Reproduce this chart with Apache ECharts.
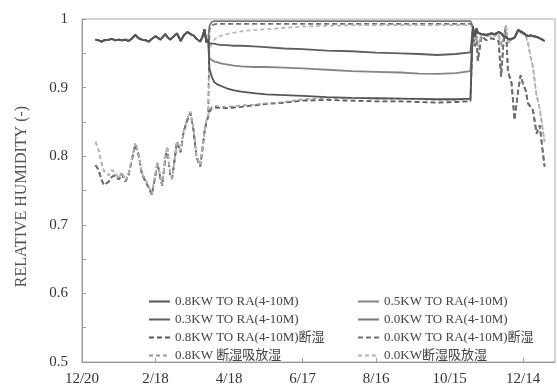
<!DOCTYPE html>
<html>
<head>
<meta charset="utf-8">
<script src="https://cdn.jsdelivr.net/npm/echarts@6/dist/echarts.min.js"></script>
<style>
  html, body { margin: 0; padding: 0; background: #fff; }
  #chart { width: 557px; height: 387px; }
</style>
</head>
<body>
<div id="chart"></div>
<script>
// Day offsets from 12/20; x-axis ticks every 60 days
const dateLabels = ['12/20', '2/18', '4/18', '6/17', '8/16', '10/15', '12/14'];

// Free-running period (before the April start)
const preDays = [11, 13.5, 16, 18, 22, 24.5, 27, 30, 32.5, 35.5, 38, 41, 43.5, 46, 49, 52, 54.5, 57, 60, 61.5,
  64, 65.5, 68, 69.5, 72, 73.5, 77.5, 80.5, 83, 86, 88.5, 91, 93.5, 96.5, 98.5, 100, 101.5, 103];
const preSolid = [0.970, 0.969, 0.967, 0.969, 0.970, 0.971, 0.969, 0.970, 0.969, 0.970, 0.968, 0.972, 0.977, 0.972, 0.970, 0.969, 0.967, 0.971, 0.975, 0.973,
  0.970, 0.973, 0.978, 0.974, 0.970, 0.972, 0.979, 0.968, 0.976, 0.981, 0.978, 0.976, 0.971, 0.967, 0.975, 0.985, 0.966, 0.970];
const preDashLight = [0.821, 0.809, 0.790, 0.778, 0.772, 0.780, 0.775, 0.768, 0.777, 0.765, 0.775, 0.799, 0.819, 0.805, 0.775, 0.765, 0.756, 0.745, 0.775, 0.792,
  0.770, 0.758, 0.799, 0.814, 0.775, 0.768, 0.823, 0.808, 0.838, 0.855, 0.865, 0.840, 0.800, 0.787, 0.815, 0.838, 0.852, 0.860];
const preDashDark = [0.787, 0.780, 0.765, 0.758, 0.763, 0.770, 0.772, 0.766, 0.774, 0.763, 0.773, 0.797, 0.817, 0.803, 0.773, 0.763, 0.754, 0.744, 0.773, 0.790,
  0.768, 0.757, 0.797, 0.812, 0.773, 0.767, 0.821, 0.806, 0.836, 0.853, 0.863, 0.838, 0.798, 0.785, 0.813, 0.836, 0.850, 0.858];

// Operating period (April - October)
const midDays = [104, 106, 108, 110, 114, 118, 124, 130, 140, 150, 165, 180, 200, 220, 240, 260, 275, 290, 305, 317];
const mid08 = [0.928, 0.915, 0.908, 0.905, 0.902, 0.899, 0.896, 0.894, 0.892, 0.890, 0.889, 0.888, 0.886, 0.885, 0.8845, 0.884, 0.8835, 0.883, 0.883, 0.884];
const mid05 = [0.943, 0.940, 0.938, 0.937, 0.935, 0.934, 0.932, 0.931, 0.930, 0.930, 0.929, 0.928, 0.926, 0.924, 0.923, 0.922, 0.9205, 0.920, 0.921, 0.924];
const mid03 = [0.965, 0.964, 0.964, 0.963, 0.962, 0.962, 0.961, 0.961, 0.960, 0.959, 0.957, 0.956, 0.954, 0.953, 0.951, 0.950, 0.949, 0.9475, 0.949, 0.9515];
const mid00 = [0.990, 0.996, 0.997, 0.997, 0.997, 0.997, 0.997, 0.997, 0.997, 0.997, 0.997, 0.997, 0.997, 0.997, 0.997, 0.997, 0.997, 0.997, 0.997, 0.997];
const mid08Cut = [0.865, 0.870, 0.871, 0.871, 0.870, 0.870, 0.871, 0.872, 0.874, 0.876, 0.878, 0.881, 0.882, 0.881, 0.880, 0.880, 0.879, 0.878, 0.879, 0.880];
const mid00Cut = [0.985, 0.991, 0.992, 0.993, 0.993, 0.993, 0.993, 0.993, 0.993, 0.993, 0.993, 0.993, 0.993, 0.993, 0.993, 0.993, 0.993, 0.993, 0.993, 0.993];
const mid08Buf = [0.867, 0.872, 0.873, 0.873, 0.872, 0.8717, 0.873, 0.874, 0.875, 0.877, 0.879, 0.883, 0.885, 0.885, 0.884, 0.884, 0.883, 0.882, 0.882, 0.883];
const mid00Buf = [0.955, 0.965, 0.970, 0.973, 0.976, 0.978, 0.980, 0.982, 0.984, 0.985, 0.987, 0.989, 0.990, 0.991, 0.991, 0.991, 0.991, 0.991, 0.991, 0.991];

// Free-running period after October
const postDays = [319, 320.5, 322, 323, 326, 330, 334, 337, 340, 342, 344, 346, 347.5, 349, 350.5, 353, 356, 358, 360, 362, 364, 366, 368, 371, 373.5, 375.5, 377.5];
const postSolid = [0.989, 0.974, 0.986, 0.980, 0.978, 0.977, 0.979, 0.978, 0.981, 0.979, 0.975, 0.973, 0.972, 0.970, 0.972, 0.973, 0.984, 0.982, 0.980, 0.977, 0.975, 0.976, 0.975, 0.974, 0.972, 0.970, 0.968];
const postDashDark = [0.985, 0.960, 0.975, 0.939, 0.975, 0.969, 0.972, 0.970, 0.968, 0.916, 0.966, 0.990, 0.926, 0.915, 0.907, 0.853, 0.8965, 0.918, 0.905, 0.8965, 0.877, 0.872, 0.867, 0.833, 0.845, 0.814, 0.785];
const postDashLight = [0.987, 0.970, 0.980, 0.960, 0.978, 0.975, 0.976, 0.975, 0.978, 0.960, 0.975, 0.992, 0.968, 0.965, 0.970, 0.972, 0.982, 0.980, 0.978, 0.976, 0.965, 0.945, 0.930, 0.888, 0.870, 0.845, 0.821];

const seriesNames = [
  '0.8KW TO RA(4-10M)', '0.5KW TO RA(4-10M)',
  '0.3KW TO RA(4-10M)', '0.0KW TO RA(4-10M)',
  '0.8KW TO RA(4-10M)断湿', '0.0KW TO RA(4-10M)断湿',
  '0.8KW 断湿吸放湿', '0.0KW断湿吸放湿'
];

function zip(days, vals) { return days.map((d, i) => [d, vals[i]]); }
function join(pre, mid, post) {
  return zip(preDays, pre).concat(zip(midDays, mid), zip(postDays, post));
}

const serif = "'Liberation Serif', 'Noto Sans CJK SC', serif";

function lineSeries(name, data, color, type, width) {
  return {
    name, type: 'line', data, symbol: 'none', smooth: false,
    lineStyle: { color, width, type },
    itemStyle: { color },
    emphasis: { disabled: true }
  };
}

// Drawing order: dark dashed underneath, light dashed, then the solid lines on top
const series = [
  lineSeries(seriesNames[4], join(preDashDark, mid08Cut, postDashDark), '#5a5a5a', [5, 3], 1.8),
  lineSeries(seriesNames[5], join(preDashDark, mid00Cut, postDashDark), '#707070', [5, 3], 1.8),
  lineSeries(seriesNames[6], join(preDashLight, mid08Buf, postDashLight), '#9a9a9a', [4, 3], 1.6),
  lineSeries(seriesNames[7], join(preDashLight, mid00Buf, postDashLight), '#b4b4b4', [4, 3], 1.6),
  lineSeries(seriesNames[1], join(preSolid, mid05, postSolid), '#858585', 'solid', 1.8),
  lineSeries(seriesNames[3], join(preSolid, mid00, postSolid), '#7a7a7a', 'solid', 1.8),
  lineSeries(seriesNames[2], join(preSolid, mid03, postSolid), '#5e5e5e', 'solid', 1.8),
  lineSeries(seriesNames[0], join(preSolid, mid08, postSolid), '#555555', 'solid', 1.8)
];

const legendCommon = {
  orient: 'vertical', top: 290, itemWidth: 21, itemHeight: 12, itemGap: 5,
  itemStyle: { opacity: 0 },
  textStyle: { fontFamily: serif, fontSize: 13, color: '#444' },
  selectedMode: false
};

const chart = echarts.init(document.getElementById('chart'), null, { renderer: 'canvas' });
chart.setOption({
  animation: false,
  backgroundColor: '#fff',
  grid: { left: 82, right: 2, top: 19, bottom: 25, show: true, borderColor: '#aaa', borderWidth: 1 },
  legend: [
    Object.assign({}, legendCommon, { left: 143, data: [seriesNames[0], seriesNames[2], seriesNames[4], seriesNames[6]] }),
    Object.assign({}, legendCommon, { left: 352, data: [seriesNames[1], seriesNames[3], seriesNames[5], seriesNames[7]] })
  ],
  xAxis: {
    type: 'value', min: 0, max: 386, interval: 60,
    axisLine: { show: true, lineStyle: { color: '#999', width: 1 } },
    axisTick: { show: true, inside: true, length: 4, lineStyle: { color: '#999' } },
    splitLine: { show: false },
    axisLabel: {
      margin: 10, fontFamily: serif, fontSize: 15, color: '#333', showMaxLabel: false,
      formatter: v => (v % 60 === 0 ? (dateLabels[v / 60] || '') : '')
    }
  },
  yAxis: {
    type: 'value', min: 0.5, max: 1, interval: 0.1,
    name: 'RELATIVE HUMIDITY (-)', nameLocation: 'middle', nameGap: 52,
    nameTextStyle: { fontFamily: serif, fontSize: 16, color: '#555', padding: [0, 12, 0, 0] },
    axisLine: { show: true, lineStyle: { color: '#999', width: 1 } },
    axisTick: { show: true, inside: true, length: 4, lineStyle: { color: '#999' } },
    minorTick: { show: true, splitNumber: 2, length: 4, lineStyle: { color: '#999' } },
    splitLine: { show: false },
    axisLabel: { margin: 14, fontFamily: serif, fontSize: 15, color: '#333' }
  },
  series
});
</script>
</body>
</html>
